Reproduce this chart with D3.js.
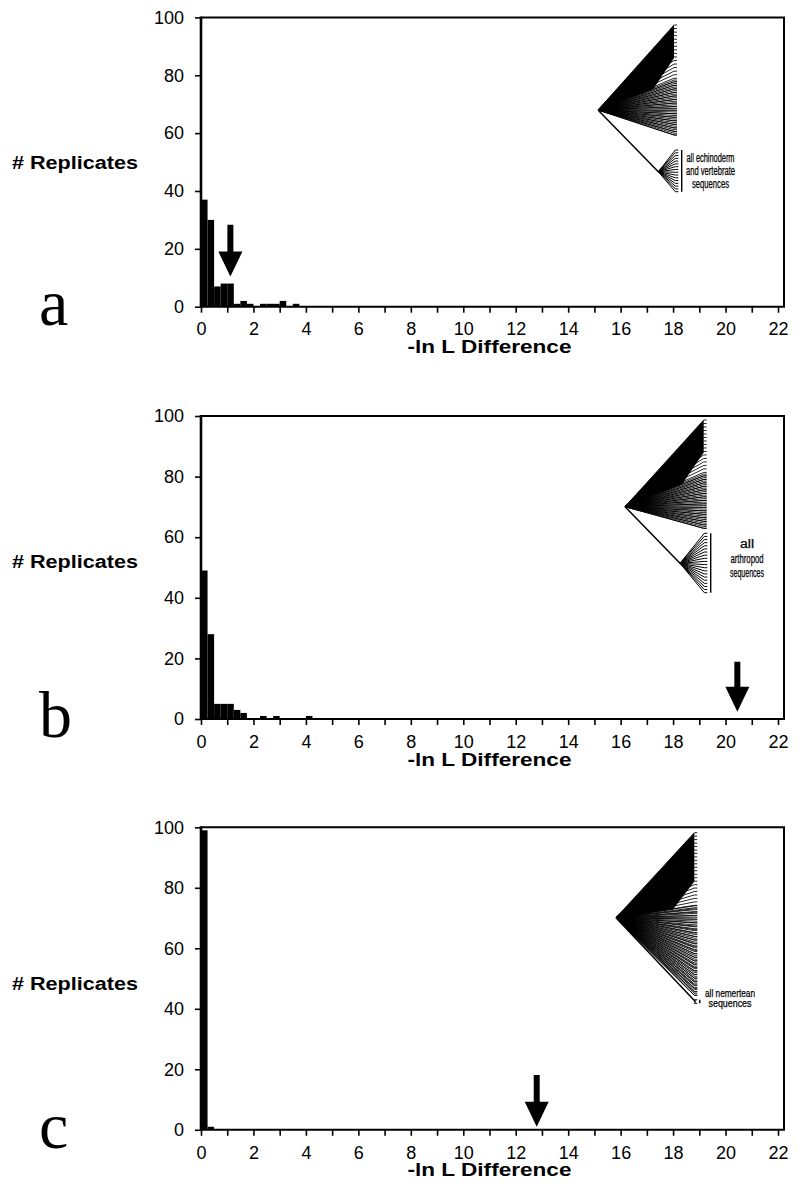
<!DOCTYPE html>
<html>
<head>
<meta charset="utf-8">
<script src="https://cdn.jsdelivr.net/npm/d3@7"></script>
<style>
  body { margin: 0; background: #fff; }
  svg { display: block; font-family: "Liberation Sans", Arial, sans-serif; }
</style>
</head>
<body>
<div id="chart"></div>
<script>
// histogram counts, bins of 0.25 starting at 0
const binWidth = 0.25
const countsA = [37, 30, 7, 8, 8, 1, 2, 1, 0, 1, 1, 1, 2, 0, 1]
const countsB = [49, 28, 5, 5, 5, 3, 2, 0, 0, 1, 0, 1, 0, 0, 0, 0, 1]
const countsC = [99, 1]

// arrows: x position and y span (in # replicates units)
const arrowX = [1.12, 20.45, 12.8]
const arrowFrom = [28.3, 18.9, 18.1]
const arrowTo = [10.4, 2.4, 1.0]

const xTicks = d3.range(0, 23)
const yTicks = [0, 20, 40, 60, 80, 100]
const panelLetters = ["a", "b", "c"]
const treeLabels = [
  ["all echinoderm", "and vertebrate", "sequences"],
  ["all", "arthropod", "sequences"],
  ["all nemertean", "sequences"]
]

const width = 797, height = 1200
const left = 201, plotW = 577
const panelTop = [17.4, 416, 827.3]
const panelBottom = [306.7, 719, 1129.8]
const yLabelOffset = [152, 152, 163]

const svg = d3.select("#chart").append("svg")
  .attr("width", width).attr("height", height)

const x = d3.scaleLinear().domain([0, 22]).range([0, plotW])

// tree inset geometry, pixels relative to each plot's top-left
const trees = [
  { root: [397, 92.6], tipX: 476, fan: [7.6, 117.6], solid: 0.5, n: 32,
    sub: { root: [457.3, 154.3], tipX: 477.3, fan: [132.6, 174.3], n: 16, bar: 480.7 },
    text: { x: 509.5, y: [144.3, 157.6, 170.6], w: [48, 49, 37], size: 12 } },
  { root: [424, 90.7], tipX: 505.7, fan: [4, 112.3], solid: 0.5, n: 32,
    sub: { root: [479, 147.3], tipX: 506.3, fan: [117.3, 176.7], n: 20, bar: 509.7 },
    text: { x: 546, y: [132, 147.3, 160.7], w: [14, 33, 34], size: 12 } },
  { root: [415, 90.4], tipX: 496.3, fan: [5.4, 168], solid: 0.45, n: 48,
    sub: { root: [494.5, 174.4], tipX: 496.3, fan: [172.5, 176], n: 2, bar: 498.8 },
    text: { x: 529, y: [169.4, 179.4], w: [50, 43], size: 11 } }
]

const allCounts = [countsA, countsB, countsC]

allCounts.forEach((counts, p) => {
  const H = panelBottom[p] - panelTop[p]
  const y = d3.scaleLinear().domain([0, 100]).range([H, 0])
  const g = svg.append("g").attr("transform", `translate(${left},${panelTop[p]})`)

  // bars
  g.selectAll("rect.bar")
    .data(counts.map((v, i) => ({ i, v })).filter(d => d.v > 0))
    .enter().append("rect")
    .attr("class", "bar")
    .attr("x", d => x(d.i * binWidth))
    .attr("width", d => x((d.i + 1) * binWidth) - x(d.i * binWidth))
    .attr("y", d => y(d.v))
    .attr("height", d => H - y(d.v))
    .attr("fill", "#000")

  // frame
  const fr = plotW + 6
  g.append("path")
    .attr("d", `M0,${H}L${fr},${H}L${fr},0L0,0`)
    .attr("fill", "none").attr("stroke", "#000").attr("stroke-width", 2)
  g.append("line")
    .attr("x1", 0).attr("x2", 0).attr("y1", -1).attr("y2", H + 1)
    .attr("stroke", "#000").attr("stroke-width", 2.6)

  // axes
  const ya = g.append("g")
    .call(d3.axisLeft(y).tickValues(yTicks).tickSize(6).tickPadding(11).tickSizeOuter(0))
  ya.select(".domain").remove()
  ya.selectAll("line").attr("stroke-width", 1.6)
  ya.selectAll("text").attr("font-size", 18).attr("font-family", "Liberation Sans, Arial, sans-serif")

  const xa = g.append("g").attr("transform", `translate(0,${H})`)
    .call(d3.axisBottom(x).tickValues(xTicks)
      .tickFormat(d => d % 2 === 0 ? d : "")
      .tickSize(6).tickPadding(10).tickSizeOuter(0))
  xa.select(".domain").remove()
  xa.selectAll("line").attr("stroke-width", 1.6)
  xa.selectAll("text").attr("font-size", 18).attr("font-family", "Liberation Sans, Arial, sans-serif")

  // axis titles
  g.append("text")
    .attr("x", plotW / 2).attr("y", H + 46.5)
    .attr("text-anchor", "middle")
    .attr("font-size", 18).attr("font-weight", "bold")
    .attr("textLength", 164).attr("lengthAdjust", "spacingAndGlyphs")
    .text("-ln L Difference")

  svg.append("text")
    .attr("x", 12).attr("y", panelTop[p] + yLabelOffset[p])
    .attr("font-size", 18).attr("font-weight", "bold")
    .attr("font-family", "Liberation Sans, Arial, sans-serif")
    .attr("textLength", 126).attr("lengthAdjust", "spacingAndGlyphs")
    .text("# Replicates")

  svg.append("text")
    .attr("x", 39).attr("y", panelBottom[p] + 18)
    .attr("font-size", 66)
    .attr("font-family", "Liberation Serif, serif")
    .text(panelLetters[p])

  // arrow
  const cx = x(arrowX[p]), top = y(arrowFrom[p]), tip = y(arrowTo[p])
  const headH = 25, headW = 12, shaft = 3
  g.append("path")
    .attr("d", `M${cx - shaft},${top}L${cx + shaft},${top}L${cx + shaft},${tip - headH}` +
      `L${cx + headW},${tip - headH}L${cx},${tip}L${cx - headW},${tip - headH}` +
      `L${cx - shaft},${tip - headH}Z`)
    .attr("fill", "#000")

  // tree inset
  drawTree(g, trees[p], treeLabels[p])
})

function drawTree(g, t, labels) {
  const tg = g.append("g")
  const [rx, ry] = t.root
  const h = t.fan[1] - t.fan[0]
  const solidEnd = t.fan[0] + t.solid * h
  const len = t.tipX - rx
  // upper part of the fan is packed solid, thinning out toward the tips
  tg.append("path")
    .attr("d", `M${rx},${ry}L${t.tipX - 3},${t.fan[0]}L${t.tipX - 3},${t.fan[0] + 0.3 * h}` +
      `L${rx + 0.7 * len},${ry + 0.7 * (solidEnd - ry)}Z`)
    .attr("fill", "#000")
  const fanY = d3.scaleLinear().domain([0, t.n - 1]).range([t.fan[0], t.fan[1]])
  tg.selectAll("path.tip")
    .data(d3.range(t.n).map(i => fanY(i)).concat(d3.range(t.n).map(i => solidEnd + (i / (t.n - 1)) * (t.fan[1] - solidEnd))))
    .enter().append("path")
    .attr("class", "tip")
    .attr("d", ty => `M${rx},${ry}L${t.tipX - 3},${ty}L${t.tipX},${ty}`)
    .attr("fill", "none").attr("stroke", "#000")
    .attr("stroke-width", 0.85)

  // branch to the separated group
  const s = t.sub
  tg.append("line")
    .attr("x1", rx).attr("y1", ry).attr("x2", s.root[0]).attr("y2", s.root[1])
    .attr("stroke", "#000").attr("stroke-width", 1.5)
  const subY = d3.scaleLinear().domain([0, Math.max(1, s.n - 1)]).range(s.fan)
  tg.selectAll("path.sub")
    .data(d3.range(s.n))
    .enter().append("path")
    .attr("class", "sub")
    .attr("d", i => `M${s.root[0]},${s.root[1]}L${s.tipX - 3},${subY(i)}L${s.tipX},${subY(i)}`)
    .attr("fill", "none").attr("stroke", "#000").attr("stroke-width", 1)
  tg.append("line")
    .attr("x1", s.bar).attr("x2", s.bar).attr("y1", s.fan[0]).attr("y2", s.fan[1])
    .attr("stroke", "#000").attr("stroke-width", 1.4)

  labels.forEach((txt, i) => {
    tg.append("text")
      .attr("x", t.text.x).attr("y", t.text.y[i])
      .attr("text-anchor", "middle")
      .attr("font-size", t.text.size)
      .attr("font-family", "Liberation Sans, Arial, sans-serif")
      .attr("stroke", "#000").attr("stroke-width", 0.25)
      .attr("textLength", t.text.w[i]).attr("lengthAdjust", "spacingAndGlyphs")
      .text(txt)
  })
}
</script>
</body>
</html>
